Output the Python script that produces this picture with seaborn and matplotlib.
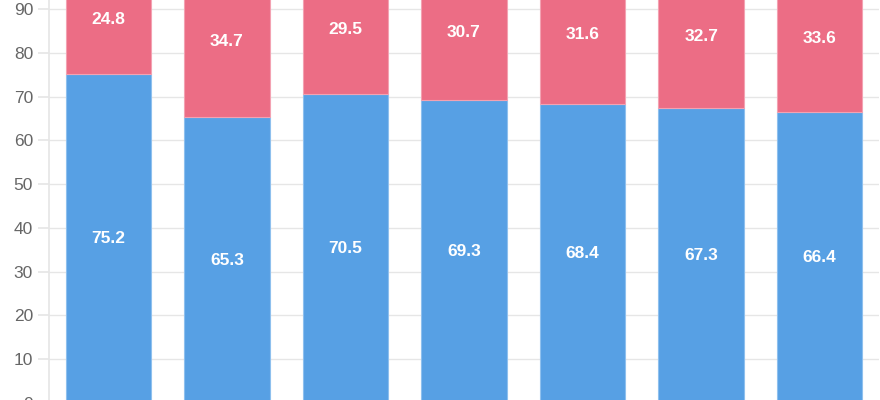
import matplotlib
matplotlib.use("Agg")
import matplotlib.pyplot as plt
import seaborn as sns
import pandas as pd

categories = ["A", "B", "C", "D", "E", "F", "G"]
blue_values = [75.2, 65.3, 70.5, 69.3, 68.4, 67.3, 66.4]
pink_values = [24.8, 34.7, 29.5, 30.7, 31.6, 32.7, 33.6]
y_ticks = [0, 10, 20, 30, 40, 50, 60, 70, 80, 90]

sns.set_theme(style="white")
plt.rcParams['font.family'] = ['Liberation Sans', 'DejaVu Sans']

df = pd.DataFrame({"cat": categories, "blue": blue_values, "pink": pink_values})

fig = plt.figure(figsize=(8.8, 4.0), dpi=100)
px = 4.378  # pixels per unit
ax_h = 100 * px / 400
ax = fig.add_axes([49 / 880, -3 / 400, 830 / 880, ax_h])

blue = "#57A0E4"
pink = "#EC6D85"
sns.barplot(data=df, x="cat", y="blue", color=blue, width=0.72, ax=ax,
            saturation=1, edgecolor="#8EC0EE", linewidth=0.8)
sns.barplot(data=df, x="cat", y="pink", color=pink, width=0.72, ax=ax,
            saturation=1, bottom=df["blue"].values, edgecolor="#F3A2B2", linewidth=0.8)

for i, (b, p) in enumerate(zip(blue_values, pink_values)):
    ax.text(i, b / 2, f"{b}", ha="center", va="center", color="white",
            fontsize=12.5, fontweight="bold")
    ax.text(i, b + p / 2, f"{p}", ha="center", va="center", color="white",
            fontsize=12.5, fontweight="bold")

ax.set_ylim(0, 100)
ax.set_xlim(-0.5, 6.5)
ax.set_yticks(y_ticks)
ax.yaxis.grid(True, color="#E6E6E6", linewidth=1)
ax.set_axisbelow(True)
ax.tick_params(axis="y", length=8, color="#E6E6E6", labelcolor="#666666",
               labelsize=12.5, pad=3.5, left=True)
ax.tick_params(axis="x", length=0, labelbottom=False)
for s in ["top", "right", "bottom"]:
    ax.spines[s].set_visible(False)
ax.spines["left"].set_color("#E6E6E6")
ax.set_xlabel("")
ax.set_ylabel("")

fig.savefig("out.png", dpi=100)
